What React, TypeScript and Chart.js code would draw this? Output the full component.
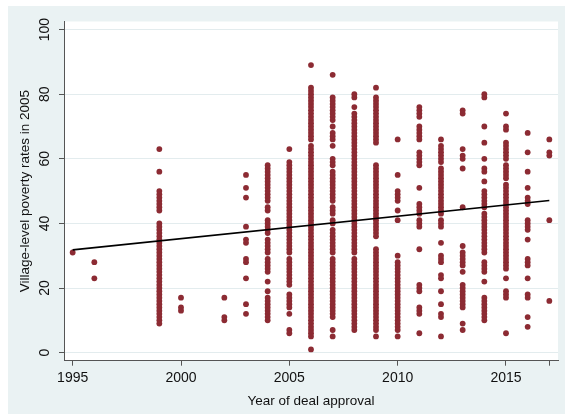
import React, { useEffect, useRef } from 'react';
import { Chart, registerables } from 'chart.js';

Chart.register(...registerables);

const FONT = '"Liberation Sans", Arial, sans-serif';

const y1995 = [31];
const y1996 = [28, 23];
const y1999 = [63, 56, 50, 49, 48, 47, 46, 45, 44, 40, 39, 38, 37, 36, 35, 34, 33, 32, 31, 30, 29, 28, 27, 26, 25, 24, 23, 22, 21, 20, 19, 18, 17, 16, 15, 14, 13, 12, 11, 10, 9];
const y2000 = [17, 14, 13];
const y2002 = [17, 11, 10];
const y2003 = [55, 51, 48, 39, 35, 34, 29, 28, 23, 15, 12];
const y2004 = [58, 57, 56, 55, 54, 53, 52, 51, 50, 49, 48, 47, 45, 44, 41, 40, 39, 38, 37, 35, 34, 33, 32, 31, 29, 28, 27, 26, 25, 22, 19, 17, 16, 15, 14, 13, 12, 11, 10];
const y2005 = [63, 59, 58, 57, 56, 55, 54, 53, 52, 51, 50, 49, 48, 47, 46, 45, 44, 43, 42, 41, 40, 39, 38, 37, 36, 35, 34, 33, 32, 31, 29, 28, 27, 26, 25, 24, 23, 22, 21, 18, 17, 16, 15, 14, 12, 7, 6];
const y2006 = [89, 82, 81, 80, 79, 78, 77, 76, 75, 74, 73, 72, 71, 70, 69, 68, 67, 66, 64, 63, 62, 61, 60, 59, 58, 57, 56, 55, 54, 53, 52, 51, 50, 49, 48, 47, 46, 45, 44, 43, 42, 41, 40, 39, 38, 37, 36, 35, 34, 33, 32, 31, 30, 29, 28, 27, 26, 25, 24, 23, 22, 21, 20, 19, 18, 17, 16, 15, 14, 13, 12, 11, 10, 9, 8, 7, 6, 5, 1];
const y2007 = [86, 79, 78, 77, 76, 75, 74, 73, 72, 70, 68, 67, 66, 64, 60, 59, 58, 56, 55, 54, 53, 52, 51, 50, 49, 48, 47, 45, 44, 43, 41, 40, 38, 37, 36, 35, 34, 33, 32, 31, 29, 28, 27, 26, 25, 24, 23, 22, 21, 20, 19, 18, 17, 16, 15, 14, 13, 12, 11, 7, 5];
const y2008 = [80, 79, 76, 74, 73, 72, 71, 70, 69, 68, 67, 66, 65, 64, 63, 62, 61, 60, 59, 58, 57, 56, 55, 54, 53, 52, 51, 50, 49, 48, 47, 46, 45, 44, 43, 42, 41, 40, 39, 38, 37, 36, 35, 34, 33, 32, 31, 29, 28, 27, 26, 25, 24, 23, 22, 21, 20, 19, 18, 17, 16, 15, 14, 13, 12, 11, 10, 9, 8, 7];
const y2009 = [82, 79, 78, 77, 76, 75, 74, 73, 72, 71, 70, 69, 68, 67, 66, 65, 58, 57, 56, 55, 54, 53, 52, 51, 50, 49, 48, 47, 46, 45, 44, 43, 42, 41, 40, 39, 38, 37, 36, 32, 31, 30, 29, 28, 27, 26, 25, 24, 23, 22, 21, 20, 19, 18, 17, 16, 15, 14, 13, 12, 11, 10, 9, 8, 7, 5];
const y2010 = [66, 55, 50, 49, 48, 47, 44, 41, 30, 28, 27, 26, 25, 24, 23, 22, 21, 20, 19, 18, 17, 16, 15, 14, 13, 12, 11, 10, 9, 8, 7, 5];
const y2011 = [76, 75, 74, 73, 70, 69, 68, 67, 66, 62, 61, 60, 59, 58, 51, 46, 45, 44, 43, 41, 40, 39, 32, 21, 20, 19, 14, 13, 12, 6];
const y2012 = [66, 64, 63, 62, 61, 60, 59, 57, 56, 55, 54, 53, 52, 51, 50, 49, 48, 47, 46, 45, 44, 43, 41, 40, 39, 34, 30, 29, 28, 24, 23, 19, 15, 12, 11, 5];
const y2013 = [75, 74, 63, 61, 60, 57, 45, 33, 31, 30, 29, 28, 27, 25, 21, 20, 19, 18, 17, 16, 15, 14, 9, 7];
const y2014 = [80, 79, 70, 65, 60, 57, 56, 53, 50, 49, 48, 47, 46, 45, 43, 42, 41, 40, 39, 38, 37, 36, 35, 34, 33, 32, 31, 28, 27, 26, 25, 22, 17, 16, 15, 14, 13, 12, 11, 10];
const y2015 = [74, 70, 69, 65, 64, 63, 62, 61, 60, 58, 57, 56, 55, 54, 52, 51, 50, 49, 48, 47, 46, 45, 44, 43, 42, 41, 40, 39, 38, 37, 36, 35, 34, 33, 32, 31, 30, 29, 28, 27, 26, 23, 19, 18, 17, 6];
const y2016 = [68, 62, 56, 51, 48, 47, 46, 41, 40, 39, 38, 35, 29, 28, 27, 23, 18, 17, 11, 8];
const y2017 = [66, 62, 61, 41, 16];

const years = [1995, 1996, 1999, 2000, 2002, 2003, 2004, 2005, 2006, 2007, 2008, 2009, 2010, 2011, 2012, 2013, 2014, 2015, 2016, 2017];
const rates = [y1995, y1996, y1999, y2000, y2002, y2003, y2004, y2005, y2006, y2007, y2008, y2009, y2010, y2011, y2012, y2013, y2014, y2015, y2016, y2017];

const fitYears = [1995, 2017];
const fitValues = [31.8, 47.1];

const xTickValues = [1995, 2000, 2005, 2010, 2015, 2017];
const xTickLabels = ['1995', '2000', '2005', '2010', '2015', ''];
const yTickValues = [0, 20, 40, 60, 80, 100];
const yTickLabels = ['0', '20', '40', '60', '80', '100'];

const bgPlugin = {
  id: 'stataBg',
  beforeDraw(chart: any) {
    const { ctx, chartArea: a, width, height } = chart;
    ctx.save();
    ctx.fillStyle = '#EAF2F3';
    ctx.fillRect(0, 0, width, height);
    ctx.fillStyle = '#FFFFFF';
    ctx.fillRect(a.left, a.top, a.right - a.left, a.bottom - a.top);
    ctx.restore();
  },
};

export default function App() {
  const ref = useRef<HTMLCanvasElement | null>(null);

  useEffect(() => {
    if (!ref.current) return;
    const points = years.flatMap((yr, i) => rates[i].map((v) => ({ x: yr, y: v })));
    const fit = fitYears.map((yr, i) => ({ x: yr, y: fitValues[i] }));
    const chart = new Chart(ref.current, {
      type: 'scatter',
      data: {
        datasets: [
          {
            label: 'Fitted values',
            data: fit,
            showLine: true,
            borderColor: '#000000',
            borderWidth: 1.6,
            pointRadius: 0,
            pointHoverRadius: 0,
          },
          {
            label: 'Poverty rate',
            data: points,
            backgroundColor: '#8C2B33',
            borderColor: '#8C2B33',
            borderWidth: 0,
            pointRadius: 2.9,
            pointHoverRadius: 2.9,
          },
        ],
      },
      options: {
        animation: false,
        responsive: false,
        events: [],
        layout: { padding: { top: 15.5, right: 7, bottom: 0, left: 0 } },
        plugins: { legend: { display: false }, tooltip: { enabled: false } },
        scales: {
          x: {
            type: 'linear',
            min: 1994.6,
            max: 2017.4,
            afterBuildTicks: (s: any) => {
              s.ticks = xTickValues.map((v) => ({ value: v }));
            },
            afterFit: (s: any) => {
              s.height = 53.3;
            },
            grid: { drawOnChartArea: false, tickColor: '#555555', tickLength: 5, lineWidth: 1 },
            border: { color: '#555555', width: 1 },
            ticks: {
              autoSkip: false,
              maxRotation: 0,
              padding: 4,
              color: '#111111',
              font: { family: FONT, size: 14 },
              callback: (v: any) => {
                const i = xTickValues.indexOf(Number(v));
                return i >= 0 ? xTickLabels[i] : '';
              },
            },
            title: {
              display: true,
              text: 'Year of deal approval',
              color: '#111111',
              font: { family: FONT, size: 13.5 },
              padding: { top: 0, bottom: 5 },
            },
          },
          y: {
            type: 'linear',
            min: -2.5,
            max: 102.5,
            afterBuildTicks: (s: any) => {
              s.ticks = yTickValues.map((v) => ({ value: v }));
            },
            afterFit: (s: any) => {
              s.width = 56;
            },
            grid: { color: '#E3ECEE', tickColor: '#555555', tickLength: 5, lineWidth: 1 },
            border: { color: '#555555', width: 1 },
            ticks: {
              minRotation: 90,
              maxRotation: 90,
              crossAlign: 'center',
              padding: 2,
              color: '#111111',
              font: { family: FONT, size: 14 },
              callback: (v: any) => {
                const i = yTickValues.indexOf(Number(v));
                return i >= 0 ? yTickLabels[i] : '';
              },
            },
            title: {
              display: true,
              text: 'Village-level poverty rates in 2005',
              color: '#111111',
              font: { family: FONT, size: 13.5 },
              padding: { top: 9, bottom: 0 },
            },
          },
        },
      },
      plugins: [bgPlugin],
    } as any);
    return () => chart.destroy();
  }, []);

  return (
    <div style={{ position: 'fixed', left: 8, top: 6, width: 557, height: 408 }}>
      <canvas ref={ref} width={557} height={408} style={{ display: 'block' }} />
    </div>
  );
}
